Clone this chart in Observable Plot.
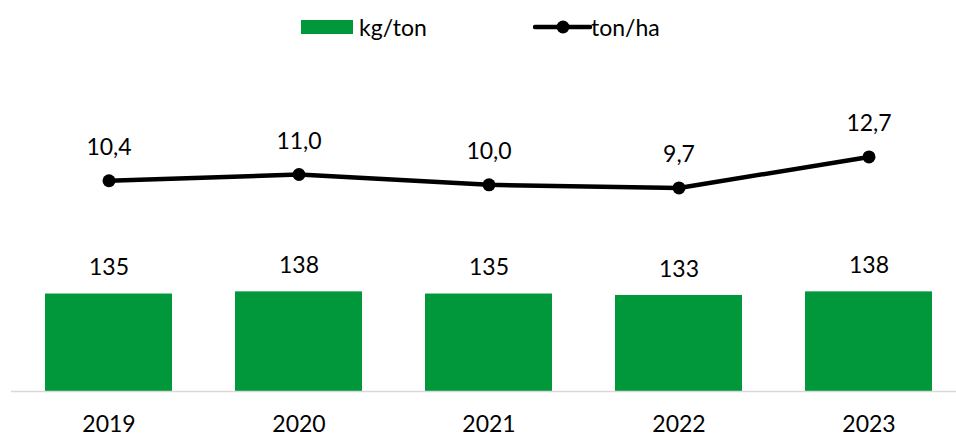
<!DOCTYPE html>
<html>
<head>
<meta charset="utf-8">
<script src="https://cdn.jsdelivr.net/npm/d3@7"></script>
<script src="https://cdn.jsdelivr.net/npm/@observablehq/plot@0.6"></script>
<style>
  html, body { margin: 0; padding: 0; background: #fff; }
  body { width: 956px; height: 437px; overflow: hidden; font-family: Lato, "Open Sans", sans-serif; }
  #wrap { position: relative; width: 956px; height: 437px; }
  #legend { position: absolute; left: 0; top: 0; width: 956px; height: 50px; font-size: 23px; color: #000; z-index: 2; }
  #legend .sw { position: absolute; left: 301px; top: 20px; width: 52px; height: 14px; background: #00983a; }
  #legend .t1 { position: absolute; left: 359px; top: 12px; line-height: 30px; }
  #legend svg { position: absolute; left: 533px; top: 17px; }
  #legend .t2 { position: absolute; left: 591px; top: 12px; line-height: 30px; }
  #chart { position: absolute; left: 0; top: 0; }
  #chart svg { display: block; }
</style>
</head>
<body>
<div id="wrap">
<div id="chart"></div>
<div id="legend">
  <div class="sw"></div><div class="t1">kg/ton</div>
  <svg width="60" height="20"><line x1="2" y1="10" x2="57" y2="10" stroke="#000" stroke-width="4.5" stroke-linecap="round"/><circle cx="30" cy="10" r="6.5" fill="#000"/></svg>
  <div class="t2">ton/ha</div>
</div>
</div>
<script>
const years = ["2019", "2020", "2021", "2022", "2023"];
const kgPerTon = [135, 138, 135, 133, 138];
const tonPerHa = [10.4, 11.0, 10.0, 9.7, 12.7];

const green = "#00983a";
// secondary axis (ton/ha) mapped onto the primary (kg/ton) axis
const secondary = d3.scaleLinear().domain([-10, 0]).range([0, 143.1]);

const bars = years.map((y, i) => ({year: y, value: kgPerTon[i]}));
const line = years.map((y, i) => ({year: y, value: tonPerHa[i], yy: secondary(tonPerHa[i])}));
const fmt = v => v.toFixed(1).replace(".", ",");

const chart = Plot.plot({
  width: 956,
  height: 437,
  marginLeft: 11,
  marginRight: 0,
  marginTop: 50,
  marginBottom: 46,
  style: {fontFamily: "Lato, 'Open Sans', sans-serif", fontSize: "23px", color: "#000", background: "#fff"},
  x: {domain: years, range: [11, 965], paddingInner: 0.334, paddingOuter: 0.167, label: null},
  y: {domain: [0, 415.5], range: [391, 91], axis: null},
  marks: [
    Plot.barY(bars, {x: "year", y: "value", fill: green}),
    Plot.ruleY([0], {stroke: "#d9d9d9", strokeWidth: 1.5}),
    Plot.text(bars, {x: "year", y: "value", text: d => String(d.value), dy: -26, fontSize: 23, fill: "#000"}),
    Plot.line(line, {x: "year", y: "yy", stroke: "#000", strokeWidth: 4.5}),
    Plot.dot(line, {x: "year", y: "yy", r: 6.5, fill: "#000"}),
    Plot.text(line, {x: "year", y: "yy", text: d => fmt(d.value), dy: -33, fontSize: 23, fill: "#000"}),
    Plot.axisX({tickSize: 0, tickPadding: 24.5, fontSize: 23, label: null})
  ]
});
document.getElementById("chart").appendChild(chart);
</script>
</body>
</html>
